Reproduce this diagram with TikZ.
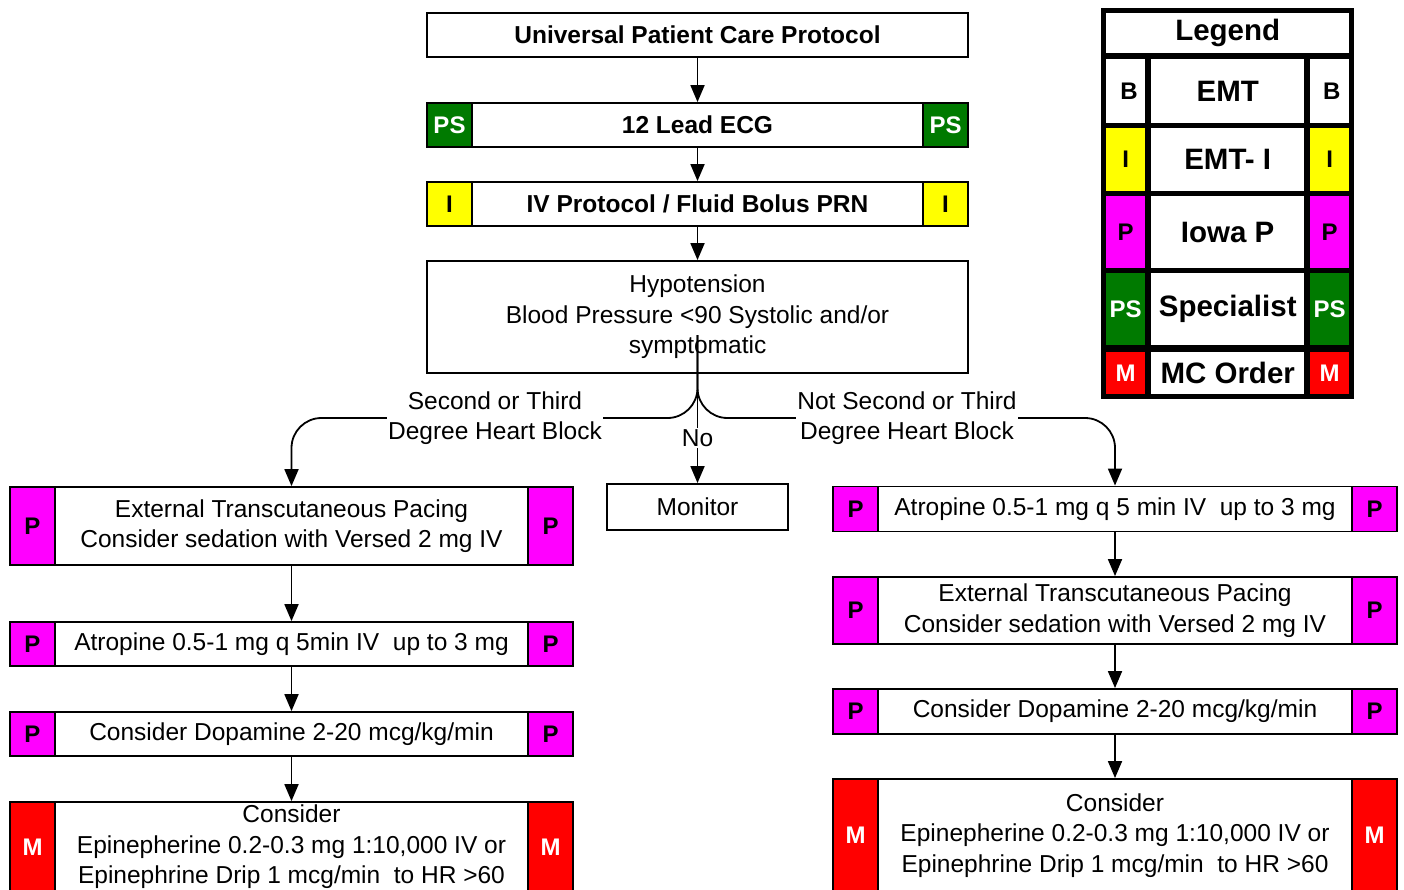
\documentclass[tikz,border=0pt]{standalone}
\usepackage{fontspec}
\setmainfont{Liberation Sans}
\usetikzlibrary{arrows.meta}
\definecolor{psgreen}{HTML}{007A00}
\definecolor{pmag}{HTML}{FF00FF}
\definecolor{iyel}{HTML}{FFFF00}
\definecolor{mred}{HTML}{FF0000}
\begin{document}
\begin{tikzpicture}[x=1pt,y=-1pt,
  box/.style={draw, line width=1.8pt, fill=white, inner sep=0pt, align=center,
    font=\fontsize{24.5}{30.5}\selectfont},
  bbox/.style={box, font=\bfseries\fontsize{24.5}{30.5}\selectfont},
  side/.style={draw, line width=1.8pt, inner sep=0pt, minimum width=45pt,
    font=\bfseries\fontsize{24}{28}\selectfont},
  pcell/.style={side, fill=pmag},
  icell/.style={side, fill=iyel},
  scell/.style={side, fill=psgreen, text=white},
  mcell/.style={side, fill=mred, text=white},
  arr/.style={line width=1.8pt, -{Triangle[width=14pt,length=17pt]}},
  lab/.style={fill=white, inner sep=1.5pt, align=center,
    font=\fontsize{24.5}{30.5}\selectfont},
  lgcell/.style={fill=white, inner sep=0pt, anchor=north west, align=center,
    font=\bfseries\fontsize{29.5}{32}\selectfont},
  lgside/.style={inner sep=0pt, anchor=north west,
    font=\bfseries\fontsize{24}{28}\selectfont}
]
\useasboundingbox (0,0) rectangle (1404,890);

% ---------- main column ----------
\node[bbox, minimum width=541pt, minimum height=44pt] (upc) at (697.5,35) {Universal Patient Care Protocol};
\node[bbox, minimum width=541pt, minimum height=44pt] (ecg) at (697.5,125) {12 Lead ECG};
\node[scell, minimum height=44pt, anchor=west] (ecgL) at (ecg.west) {PS};
\node[scell, minimum height=44pt, anchor=east] (ecgR) at (ecg.east) {PS};
\node[bbox, minimum width=541pt, minimum height=44pt] (iv) at (697.5,204) {IV Protocol / Fluid Bolus PRN};
\node[icell, minimum height=44pt, anchor=west] (ivL) at (iv.west) {I};
\node[icell, minimum height=44pt, anchor=east] (ivR) at (iv.east) {I};
\node[box, minimum width=541pt, minimum height=112pt] (hyp) at (697.5,317)
  {Hypotension\\Blood Pressure <90 Systolic and/or\\symptomatic};

\draw[arr] (upc) -- (ecg);
\draw[arr] (ecg) -- (iv);
\draw[arr] (iv) -- (hyp);

% ---------- monitor ----------
\node[box, minimum width=181pt, minimum height=46pt] (mon) at (697.5,507) {Monitor};

% ---------- left column ----------
\node[box, minimum width=563pt, minimum height=78pt] (l1) at (291.5,526)
  {External Transcutaneous Pacing\\Consider sedation with Versed 2 mg IV};
\node[pcell, minimum height=78pt, anchor=west] (l1L) at (l1.west) {P};
\node[pcell, minimum height=78pt, anchor=east] (l1R) at (l1.east) {P};
\node[box, minimum width=563pt, minimum height=44pt] (l2) at (291.5,644)
  {Atropine 0.5-1 mg q 5min IV\ \ up to 3 mg};
\node[pcell, minimum height=44pt, anchor=west] (l2L) at (l2.west) {P};
\node[pcell, minimum height=44pt, anchor=east] (l2R) at (l2.east) {P};
\node[box, minimum width=563pt, minimum height=44pt] (l3) at (291.5,734)
  {Consider Dopamine 2-20 mcg/kg/min};
\node[pcell, minimum height=44pt, anchor=west] (l3L) at (l3.west) {P};
\node[pcell, minimum height=44pt, anchor=east] (l3R) at (l3.east) {P};
\node[box, minimum width=563pt, minimum height=90pt] (l4) at (291.5,847)
  {Consider\\Epinepherine 0.2-0.3 mg 1:10,000 IV or\\Epinephrine Drip 1 mcg/min\ \ to HR >60};
\node[mcell, minimum height=90pt, anchor=west] (l4L) at (l4.west) {M};
\node[mcell, minimum height=90pt, anchor=east] (l4R) at (l4.east) {M};

\draw[arr] (l1) -- (l2);
\draw[arr] (l2) -- (l3);
\draw[arr] (l3) -- (l4);

% ---------- right column ----------
\node[box, minimum width=564pt, minimum height=45pt] (r1) at (1115,509)
  {Atropine 0.5-1 mg q 5 min IV\ \ up to 3 mg};
\node[pcell, minimum height=45pt, anchor=west] (r1L) at (r1.west) {P};
\node[pcell, minimum height=45pt, anchor=east] (r1R) at (r1.east) {P};
\node[box, minimum width=564pt, minimum height=67pt] (r2) at (1115,610.5)
  {External Transcutaneous Pacing\\Consider sedation with Versed 2 mg IV};
\node[pcell, minimum height=67pt, anchor=west] (r2L) at (r2.west) {P};
\node[pcell, minimum height=67pt, anchor=east] (r2R) at (r2.east) {P};
\node[box, minimum width=564pt, minimum height=45pt] (r3) at (1115,711.5)
  {Consider Dopamine 2-20 mcg/kg/min};
\node[pcell, minimum height=45pt, anchor=west] (r3L) at (r3.west) {P};
\node[pcell, minimum height=45pt, anchor=east] (r3R) at (r3.east) {P};
\node[box, minimum width=564pt, minimum height=113pt] (r4) at (1115,835.5)
  {Consider\\Epinepherine 0.2-0.3 mg 1:10,000 IV or\\Epinephrine Drip 1 mcg/min\ \ to HR >60};
\node[mcell, minimum height=113pt, anchor=west] (r4L) at (r4.west) {M};
\node[mcell, minimum height=113pt, anchor=east] (r4R) at (r4.east) {M};

\draw[arr] (r1) -- (r2);
\draw[arr] (r2) -- (r3);
\draw[arr] (r3) -- (r4);

% ---------- branches ----------
\coordinate (split) at (697.5,335);
\coordinate (lvl) at (0,418);
\draw[arr] (split) -- (mon);
\draw[arr, rounded corners=30pt] (split) |- (l1.north |- lvl) -- (l1.north);
\draw[arr, rounded corners=30pt] (split) |- (r1.north |- lvl) -- (r1.north);
\node[lab] (labL) at (495,418) {Second or Third\\Degree Heart Block};
\node[lab] (labR) at (907,418) {Not Second or Third\\Degree Heart Block};
\node[lab] (labN) at (697.5,438) {No};

% ---------- legend ----------
\fill[black] (1101,8) rectangle (1354,399);
\node[lgcell, minimum width=243pt, minimum height=40pt] (lgT) at (1106,13) {Legend};
% rows: B, I, P, PS, M
\node[lgside, fill=white, minimum width=39pt, minimum height=64pt] (lgB1) at (1106,59) {\ B};
\node[lgcell, minimum width=153pt, minimum height=64pt] (lgB) at (1151,59) {EMT};
\node[lgside, fill=white, minimum width=39pt, minimum height=64pt] (lgB2) at (1310,59) {\,B};
\node[lgside, fill=iyel, minimum width=39pt, minimum height=63pt] (lgI1) at (1106,128) {I};
\node[lgcell, minimum width=153pt, minimum height=63pt] (lgI) at (1151,128) {EMT- I};
\node[lgside, fill=iyel, minimum width=39pt, minimum height=63pt] (lgI2) at (1310,128) {I};
\node[lgside, fill=pmag, minimum width=39pt, minimum height=72pt] (lgP1) at (1106,196) {P};
\node[lgcell, minimum width=153pt, minimum height=72pt] (lgP) at (1151,196) {Iowa P};
\node[lgside, fill=pmag, minimum width=39pt, minimum height=72pt] (lgP2) at (1310,196) {P};
\node[lgside, fill=psgreen, text=white, minimum width=39pt, minimum height=72pt] (lgS1) at (1106,273) {PS\\[12pt]};
\node[lgcell, minimum width=153pt, minimum height=72pt] (lgS) at (1151,273) {Specialist};
\node[lgside, fill=psgreen, text=white, minimum width=39pt, minimum height=72pt] (lgS2) at (1310,273) {PS\\[12pt]};
\node[lgside, fill=mred, text=white, minimum width=39pt, minimum height=42pt] (lgM1) at (1106,352) {M};
\node[lgcell, minimum width=153pt, minimum height=42pt] (lgM) at (1151,352) {MC Order};
\node[lgside, fill=mred, text=white, minimum width=39pt, minimum height=42pt] (lgM2) at (1310,352) {M};
\end{tikzpicture}
\end{document}
